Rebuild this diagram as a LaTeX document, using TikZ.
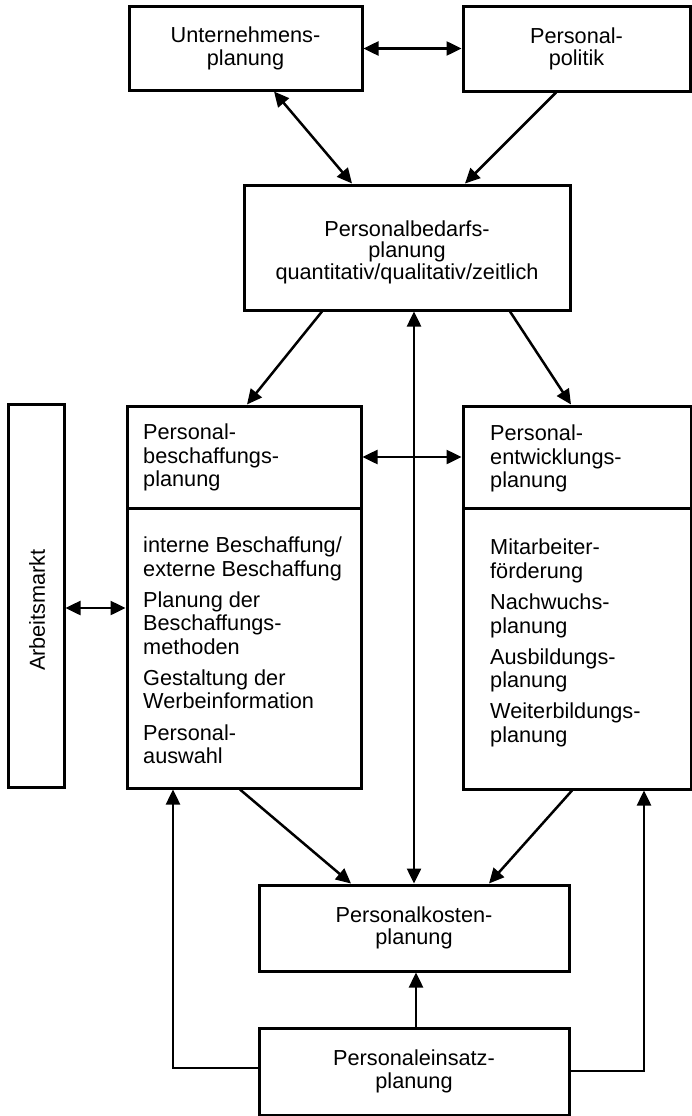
\documentclass[tikz,border=0pt]{standalone}
\usepackage{fontspec}
\setmainfont{Liberation Sans}
\usetikzlibrary{arrows.meta,calc}
\begin{document}
\begin{tikzpicture}[x=1pt,y=-1pt,
  box/.style={draw, line width=3pt, rectangle, inner sep=0pt, align=center, font=\fontsize{21.7}{22.5}\selectfont},
  txtl/.style={inner sep=0pt, align=left, anchor=north west, font=\fontsize{21.7}{23.3}\selectfont},
  txtr/.style={inner sep=0pt, align=left, anchor=north west, font=\fontsize{21.7}{23.8}\selectfont},
  tip/.style={},
  con/.style={line width=2.5pt, -{Triangle[length=15pt,width=14pt]}},
  bicon/.style={line width=2.5pt, {Triangle[length=15pt,width=14pt]}-{Triangle[length=15pt,width=14pt]}},
]
\useasboundingbox (0,0) rectangle (692,1116);
% top row
\node[box, minimum width=233pt, minimum height=83pt] (U) at (245.5,48.5) {Unternehmens-\\planung};
\node[box, minimum width=227pt, minimum height=84pt] (P) at (576.5,49) {Personal-\\politik};
% Bedarf
\node[box, minimum width=326pt, minimum height=125pt] (B) at (407,247.5) {};
\node[inner sep=0pt, align=center, font=\fontsize{21.7}{21.5}\selectfont] (Bt) at (407,252) {Personalbedarfs-\\planung\\quantitativ/qualitativ/zeitlich};
% Arbeitsmarkt
\node[box, minimum width=56pt, minimum height=383pt] (A) at (36,595.5) {};
\node[rotate=90, inner sep=0pt, font=\fontsize{21.7}{23}\selectfont] (At) at (37,610) {Arbeitsmarkt};
% left split box
\node[box, minimum width=234pt, minimum height=102pt] (LT) at (244,457) {};
\node[box, minimum width=234pt, minimum height=280pt] (LB) at (244,648) {};
\node[txtl] (LTt) at (143,424) {Personal-\\beschaffungs-\\planung};
\node[txtl] (LBt) at (143,537) {interne Beschaffung/\\externe Beschaffung\\[8pt]Planung der\\Beschaffungs-\\methoden\\[8pt]Gestaltung der\\Werbeinformation\\[8pt]Personal-\\auswahl};
% right split box
\node[box, minimum width=228pt, minimum height=102pt] (RT) at (577,457) {};
\node[box, minimum width=228pt, minimum height=281pt] (RB) at (577,648.5) {};
\node[txtl] (RTt) at (490,425) {Personal-\\entwicklungs-\\planung};
\node[txtr] (RBt) at (490,539) {Mitarbeiter-\\förderung\\[7pt]Nachwuchs-\\planung\\[7pt]Ausbildungs-\\planung\\[7pt]Weiterbildungs-\\planung};
% bottom boxes
\node[box, minimum width=310pt, minimum height=86pt] (K) at (414,928) {Personalkosten-\\planung};
\node[box, minimum width=310pt, minimum height=87pt] (E) at (414,1071.5) {Personaleinsatz-\\planung};
% connectors
\draw[bicon] (U.east) -- (U.east -| P.west);
\draw[bicon] (U.south -| 274,0) -- (B.north -| 352,0);
\draw[con] (P.south -| 556,0) -- (B.north -| 465,0);
\draw[bicon] (B.south -| K.north) -- (K.north);
\draw[con] (B.south -| 322,0) -- (LT.north -| 247,0);
\draw[con] (B.south -| 510,0) -- (RT.north -| 571,0);
\draw[bicon] (LT.east) -- (RT.west);
\draw[bicon] (A.east |- 0,608) -- (LB.west |- 0,608);
\draw[con] (LB.south -| 240,0) -- (K.north -| 351,0);
\draw[con] (RB.south -| 572,0) -- (K.north -| 489,0);
\draw[con] (E.north -| 416,0) -- (K.south -| 416,0);
\draw[con] (E.west |- 0,1068) -| (LB.south -| 173,0);
\draw[con] (E.east |- 0,1071) -| (RB.south -| 644,0);
\end{tikzpicture}
\end{document}
